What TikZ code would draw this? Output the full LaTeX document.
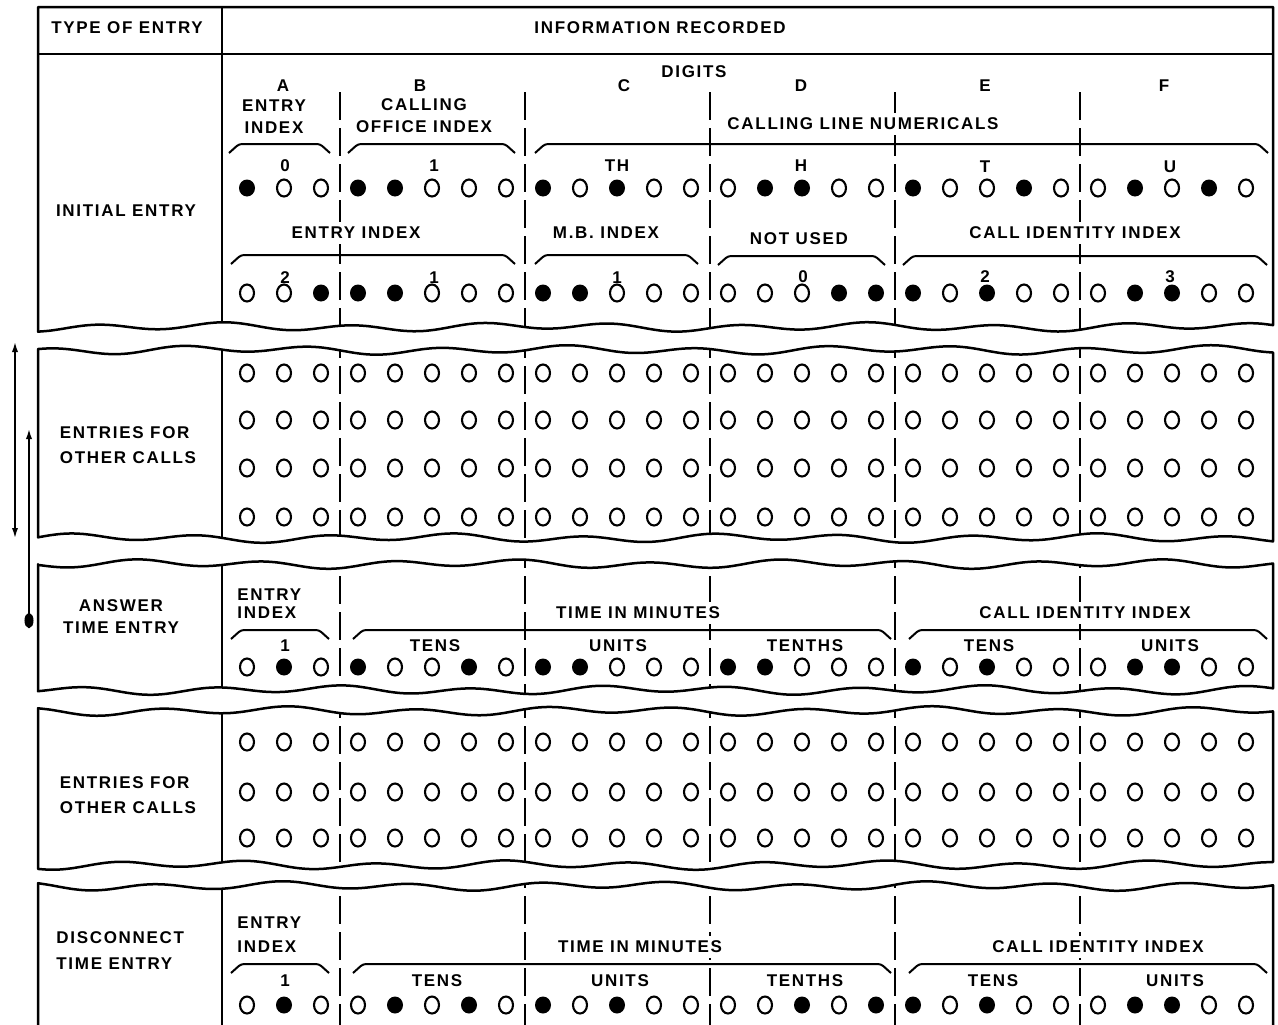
\documentclass[tikz,border=0pt]{standalone}
\usepackage{fontspec}
\newfontfamily\lettering[LetterSpace=10]{Liberation Sans}
\usetikzlibrary{arrows.meta}

\newcommand{\holerow}[2]{%
  \foreach \b [count=\i from 0] in {#2} {%
    \ifnum\b=1
      \fill (247+37*\i,#1) ellipse [x radius=8, y radius=8.5];
    \else
      \draw[hole] (247+37*\i,#1) ellipse [x radius=7, y radius=8.5];
    \fi}}
\newcommand{\blankrow}[1]{%
  \foreach \i in {0,...,27}
    \draw[hole] (247+37*\i,#1) ellipse [x radius=7, y radius=8.5];}
\newcommand{\cardbracket}[3]{%
  \draw[bracket] (#1,#3+9) -- (#1+10,#3) -- (#2-10,#3) -- (#2,#3+9);}
\newcommand{\torn}[4]{-- plot[domain=#4, samples=110, smooth] (\x, {#1+3.2*sin(2.8*\x+#2)+1.6*sin(1.1*\x+#3)})}
\newcommand{\firstpiece}{(38,7) \torn{327}{0}{40}{38:1273} -- (1273,7) -- cycle}
\newcommand{\cardpiece}[6]{(38,#1) \torn{#4}{#5}{#6}{38:1273} \torn{#1}{#2}{#3}{1273:38} -- cycle}
\newcommand{\lastpiece}{(38,1060) -- (1273,1060) \torn{886}{200}{310}{1273:38} -- cycle}
\newcommand{\cardcuts}[2]{%
  \draw[frame] (222,#1) -- (222,#2);
  \foreach \sx in {340,525,710,895,1080}
    \draw[sep] (\sx,#1) -- (\sx,#2);}

\begin{document}
\begin{tikzpicture}[x=0.5pt, y=-0.5pt,
    frame/.style={line width=1.25pt, line join=round},
    sep/.style={line width=0.8pt, dash pattern=on 14pt off 4pt},
    hole/.style={line width=1.05pt},
    bracket/.style={line width=1pt, rounded corners=1.5pt},
    txt/.style={font=\lettering\bfseries\fontsize{8.5}{11}\selectfont, fill=white, inner xsep=0.5pt, inner ysep=2.5pt},
    tip/.style={line width=1.2pt}]
  \useasboundingbox (0,0) rectangle (1278,1024);

  % initial entry
  \begin{scope}
    \clip \firstpiece;
    \draw[frame] (222,0) -- (222,360);
    \foreach \sx in {340,525,710,895,1080}
      \draw[sep] (\sx,92) -- (\sx,360);
  \end{scope}
  \draw[frame] \firstpiece;
  \draw[frame] (38,54) -- (1273,54);
  \node[txt] (typehead) at (127,28) {TYPE OF ENTRY};
  \node[txt] (infohead) at (660,28) {INFORMATION RECORDED};
  \node[txt] (initial) at (126,211) {INITIAL ENTRY};
  \node[txt] (colA) at (283,86) {A};
  \node[txt] (colB) at (420,86) {B};
  \node[txt] (colC) at (624,86) {C};
  \node[txt] (digits) at (694,72) {DIGITS};
  \node[txt] (colD) at (801,86) {D};
  \node[txt] (colE) at (985,86) {E};
  \node[txt] (colF) at (1164,86) {F};
  \node[txt, align=center] (entryA) at (274,117) {ENTRY\\INDEX};
  \node[txt, align=center] (office) at (424,116) {CALLING\\OFFICE INDEX};
  \node[txt] (numericals) at (863,124) {CALLING LINE NUMERICALS};
  \cardbracket{229}{330}{144}
  \cardbracket{348}{515}{144}
  \cardbracket{535}{1268}{144}
  \node[txt] (valA) at (285,166) {0};
  \node[txt] (valB) at (434,166) {1};
  \node[txt] (valTH) at (617,166) {TH};
  \node[txt] (valH) at (801,166) {H};
  \node[txt] (valT) at (985,167) {T};
  \node[txt] (valU) at (1170,167) {U};
  \holerow{188}{1,0,0, 1,1,0,0,0, 1,0,1,0,0, 0,1,1,0,0, 1,0,0,1,0, 0,1,0,1,0}
  \node[txt] (entryAB) at (356,233) {ENTRY INDEX};
  \node[txt] (mbindex) at (606,233) {M.B. INDEX};
  \node[txt] (notused) at (799,239) {NOT USED};
  \node[txt] (callid) at (1075,233) {CALL IDENTITY INDEX};
  \cardbracket{231}{515}{255}
  \cardbracket{535}{698}{255}
  \cardbracket{718}{885}{256}
  \cardbracket{903}{1267}{256}
  \node[txt] (valAB2) at (285,278) {2};
  \node[txt] (valB2) at (434,278) {1};
  \node[txt] (valC2) at (617,278) {1};
  \node[txt] (valD2) at (803,277) {0};
  \node[txt] (valE2) at (985,277) {2};
  \node[txt] (valF2) at (1170,277) {3};
  \holerow{293}{0,0,1, 1,1,0,0,0, 1,1,0,0,0, 0,0,0,1,1, 1,0,1,0,0, 0,1,1,0,0}

  % entries for other calls
  \begin{scope}
    \clip \cardpiece{350}{120}{15}{538}{75}{160};
    \cardcuts{330}{560}
  \end{scope}
  \draw[frame] \cardpiece{350}{120}{15}{538}{75}{160};
  \node[txt, align=left] (others) at (128,445) {ENTRIES FOR\\[1.5pt]OTHER CALLS};
  \foreach \ry in {373,420,468,517} {\blankrow{\ry}}

  % answer time entry
  \begin{scope}
    \clip \cardpiece{564}{250}{95}{690}{30}{280};
    \cardcuts{540}{710}
  \end{scope}
  \draw[frame] \cardpiece{564}{250}{95}{690}{30}{280};
  \node[txt, align=center] (answer) at (121,617) {ANSWER\\TIME ENTRY};
  \node[txt, align=left, anchor=west] (entryans) at (236,604) {ENTRY\\[-2pt]INDEX};
  \node[txt] (timeans) at (638,613) {TIME IN MINUTES};
  \node[txt] (callans) at (1085,613) {CALL IDENTITY INDEX};
  \cardbracket{231}{329}{630}
  \cardbracket{353}{891}{630}
  \cardbracket{909}{1267}{630}
  \node[txt] (idxans) at (285,646) {1};
  \node[txt] (tensans) at (435,646) {TENS};
  \node[txt] (unitsans) at (618,646) {UNITS};
  \node[txt] (tenthsans) at (805,646) {TENTHS};
  \node[txt] (ctensans) at (989,646) {TENS};
  \node[txt] (cunitsans) at (1170,646) {UNITS};
  \holerow{667}{0,1,0, 1,0,0,1,0, 1,1,0,0,0, 1,1,0,0,0, 1,0,1,0,0, 0,1,1,0,0}

  % entries for other calls
  \begin{scope}
    \clip \cardpiece{711}{180}{330}{865}{300}{50};
    \cardcuts{690}{890}
  \end{scope}
  \draw[frame] \cardpiece{711}{180}{330}{865}{300}{50};
  \node[txt, align=left] (moreothers) at (128,795) {ENTRIES FOR\\[1.5pt]OTHER CALLS};
  \foreach \ry in {742,792,838} {\blankrow{\ry}}

  % disconnect time entry
  \begin{scope}
    \clip \lastpiece;
    \cardcuts{860}{1080}
  \end{scope}
  \draw[frame] \lastpiece;
  \node[txt, align=left, anchor=west] (disconnect) at (55,951) {DISCONNECT\\[2pt]TIME ENTRY};
  \node[txt, align=left, anchor=west] (entrydis) at (236,935) {ENTRY\\[1pt]INDEX};
  \node[txt] (timedis) at (640,947) {TIME IN MINUTES};
  \node[txt] (calldis) at (1098,947) {CALL IDENTITY INDEX};
  \cardbracket{231}{329}{964}
  \cardbracket{353}{891}{964}
  \cardbracket{909}{1267}{964}
  \node[txt] (idxdis) at (285,981) {1};
  \node[txt] (tensdis) at (437,981) {TENS};
  \node[txt] (unitsdis) at (620,981) {UNITS};
  \node[txt] (tenthsdis) at (805,981) {TENTHS};
  \node[txt] (ctensdis) at (993,981) {TENS};
  \node[txt] (cunitsdis) at (1175,981) {UNITS};
  \holerow{1005}{0,1,0, 0,1,0,1,0, 1,0,1,0,0, 0,0,1,0,1, 1,0,1,0,0, 0,1,1,0,0}

  % arrows at the left margin
  \coordinate (callsup) at (15,340);
  \coordinate (callsdown) at (15,540);
  \draw[tip, {Latex[length=6pt,width=3pt]}-{Latex[length=6pt,width=3pt]}] (callsup) -- (callsdown);
  \coordinate (answerdot) at (29,628);
  \coordinate (answerup) at (29,427);
  \draw[tip, {Ellipse[length=7.5pt,width=4.5pt]}-{Latex[length=6pt,width=3pt]}] (answerdot) -- (answerup);
\end{tikzpicture}
\end{document}
